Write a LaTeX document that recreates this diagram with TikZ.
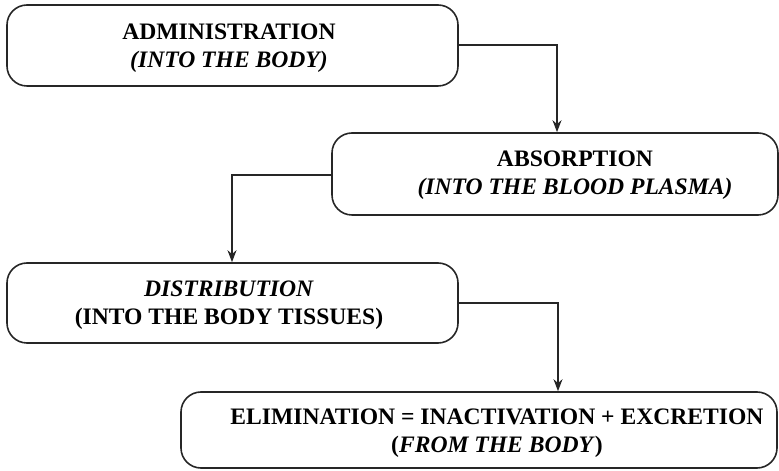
\documentclass[tikz,border=0pt]{standalone}
\usepackage{fontspec}
\setmainfont{Liberation Serif}
\usetikzlibrary{arrows.meta}
\begin{document}
\begin{tikzpicture}[x=1pt,y=1pt,
  stagebox/.style={draw=black!85, line width=1.6pt, rounded corners=20pt, inner sep=0pt},
  stagetext/.style={align=center, font=\fontsize{23.6}{27.5}\selectfont\bfseries, inner sep=0pt},
  flow/.style={draw=black!85, line width=1.6pt, -{Stealth[length=12pt,width=9pt]}}]
\useasboundingbox (0,0) rectangle (779,471);
% boxes
\node[stagebox, minimum width=451pt, minimum height=81pt] (b1) at (232.5,425.5) {};
\node[stagebox, minimum width=446pt, minimum height=82pt] (b2) at (555,297) {};
\node[stagebox, minimum width=451pt, minimum height=80pt] (b3) at (232.5,168) {};
\node[stagebox, minimum width=596pt, minimum height=76pt] (b4) at (479,41) {};
% texts
\node[stagetext] (t1) at (229,423) {ADMINISTRATION\\\textit{(INTO THE BODY)}};
\node[stagetext] (t2) at (575,296) {ABSORPTION\\\textit{(INTO THE BLOOD PLASMA)}};
\node[stagetext] (t3) at (229,166) {\textit{DISTRIBUTION}\\(INTO THE BODY TISSUES)};
\node[stagetext] (t4) at (497,38) {ELIMINATION = INACTIVATION + EXCRETION\\(\textit{FROM THE BODY})};
% connectors
\coordinate (c1) at (557,426);
\coordinate (c2) at (232,296);
\coordinate (c3) at (558,168);
\draw[flow] (b1.east |- c1) -- (c1) -- (c1 |- b2.north);
\draw[flow] (b2.west |- c2) -- (c2) -- (c2 |- b3.north);
\draw[flow] (b3.east |- c3) -- (c3) -- (c3 |- b4.north);
\end{tikzpicture}
\end{document}
